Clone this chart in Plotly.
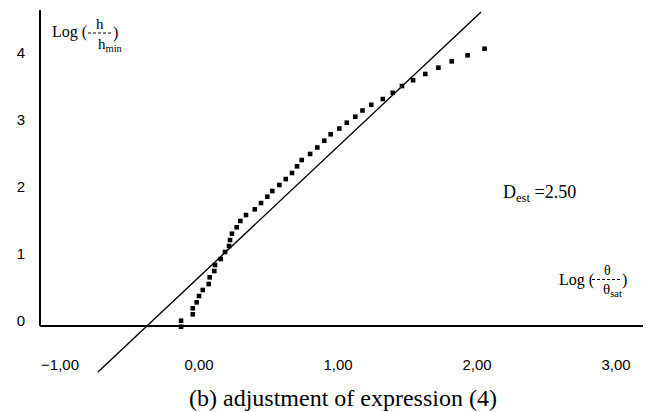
import plotly.graph_objects as go

# ---------------- data ----------------
log_theta = [-0.129, -0.129, -0.045, -0.045, -0.017, 0.000, 0.027, 0.070, 0.077, 0.110,
             0.115, 0.156, 0.187, 0.216, 0.223, 0.237, 0.271, 0.297, 0.338, 0.401,
             0.446, 0.491, 0.527, 0.578, 0.624, 0.669, 0.705, 0.739, 0.799, 0.851,
             0.901, 0.947, 1.009, 1.063, 1.124, 1.176, 1.239, 1.322, 1.394, 1.460,
             1.540, 1.628, 1.722, 1.818, 1.932, 2.054]
log_h = [-0.085, 0.004, 0.100, 0.190, 0.279, 0.373, 0.463, 0.552, 0.652, 0.746,
         0.836, 0.925, 1.030, 1.119, 1.209, 1.303, 1.399, 1.493, 1.582, 1.667,
         1.761, 1.855, 1.940, 2.030, 2.119, 2.209, 2.309, 2.403, 2.493, 2.590,
         2.691, 2.787, 2.873, 2.960, 3.049, 3.142, 3.227, 3.313, 3.407, 3.507,
         3.594, 3.687, 3.781, 3.876, 3.966, 4.064]
fit_x = [-0.727, 2.029]
fit_y = [-0.761, 4.612]
x_ticks = [-1, 0, 1, 2, 3]
x_ticktext = ["\u22121,00", "0,00", "1,00", "2,00", "3,00"]
y_ticks = [0, 1, 2, 3, 4]
y_ticktext = ["0", "1", "2", "3", "4"]

# ---------------- layout geometry ----------------
W, H = 650, 412
ML, MR, MT, MB = 40, 7, 10, 36
PW, PH = W - ML - MR, H - MT - MB
X_RANGE = [-1.144, 3.194]
Y_RANGE = [-0.821, 4.642]
AXIS_Y = -0.075

def px(x):
    return (x - ML) / PW

def py(y):
    return (H - MB - y) / PH

serif = "Liberation Serif, Times New Roman, serif"
sans = "Liberation Sans, Arial, sans-serif"

fig = go.Figure()
fig.add_trace(go.Scatter(x=fit_x, y=fit_y, mode="lines",
                         line=dict(color="black", width=1.4), showlegend=False,
                         hoverinfo="skip"))
fig.add_trace(go.Scatter(x=log_theta, y=log_h, mode="markers",
                         marker=dict(symbol="square", size=4.6, color="black"),
                         showlegend=False, cliponaxis=False))

ann = []
def A(text, x, y, size, xanchor="left", yanchor="middle", font=serif):
    ann.append(dict(text=text, x=px(x), y=py(y), xref="paper", yref="paper",
                    xanchor=xanchor, yanchor=yanchor, showarrow=False,
                    font=dict(family=font, size=size, color="black")))

shapes = [dict(type="line", xref="paper", yref="y", x0=0, x1=0, y0=AXIS_Y, y1=Y_RANGE[1],
               line=dict(color="black", width=2))]

def dashbar(x0, x1, y):
    shapes.append(dict(type="line", xref="paper", yref="paper",
                       x0=px(x0), x1=px(x1), y0=py(y), y1=py(y),
                       line=dict(color="black", width=1, dash="3px,2px")))

# y label  Log (h / h_min)
A("Log (", 50, 32, 16)
dashbar(88, 111, 33)
A("h", 100, 24, 15, xanchor="center")
A(")", 111, 33, 16)
A("h<sub>min</sub>", 96, 45, 15)

# x label Log (theta / theta_sat)
A("Log (", 557, 280, 16)
dashbar(592, 620, 279.5)
A("\u03b8", 607, 270, 14, xanchor="center")
A(")", 620, 280, 16)
A("\u03b8<sub>sat</sub>", 601, 290, 15)

# D_est
A("D<sub>est</sub> =2.50", 501, 193, 18)

# caption
A("(b) adjustment of expression (4)", 343, 398, 24, xanchor="center")

fig.update_layout(
    width=W, height=H,
    margin=dict(l=ML, r=MR, t=MT, b=MB, pad=0),
    paper_bgcolor="white", plot_bgcolor="white",
    xaxis=dict(range=X_RANGE, anchor="free", position=(AXIS_Y - Y_RANGE[0]) / (Y_RANGE[1] - Y_RANGE[0]),
               showline=True, linecolor="black", linewidth=2, showgrid=False, zeroline=False,
               tickmode="array", tickvals=x_ticks, ticktext=x_ticktext, ticks="",
               ticklabelstandoff=25, tickfont=dict(family=sans, size=15, color="black")),
    yaxis=dict(range=Y_RANGE, showline=False, showgrid=False, zeroline=False,
               tickmode="array", tickvals=y_ticks, ticktext=y_ticktext, ticks="",
               ticklabelstandoff=14, tickfont=dict(family=sans, size=15, color="black")),
    shapes=shapes,
    annotations=ann,
)

fig.write_html("out.html")
